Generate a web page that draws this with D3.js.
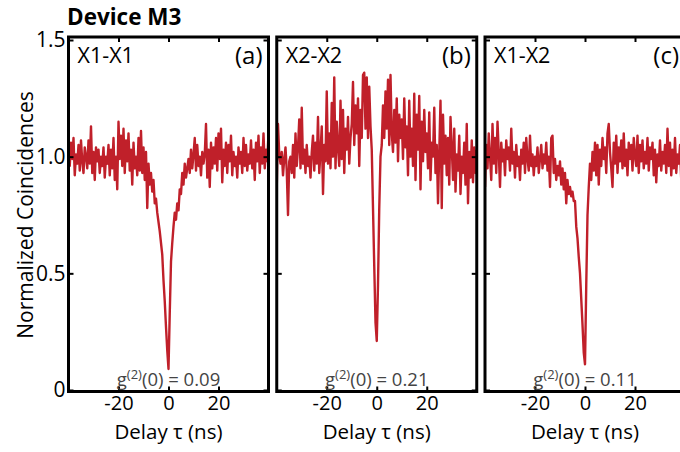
<!DOCTYPE html>
<html>
<head>
<meta charset="utf-8">
<script src="https://cdn.jsdelivr.net/npm/d3@7"></script>
<style>
  html, body { margin: 0; padding: 0; background: #fff; }
  svg { display: block; font-family: "Open Sans", Lato, sans-serif; }
</style>
</head>
<body>
<svg id="chart" width="680" height="452"></svg>
<script>
// ---------------- data ----------------
const delays = [
  -40,-39.5,-39,-38.5,-38,-37.5,-37,-36.5,-36,-35.5,
  -35,-34.5,-34,-33.5,-33,-32.5,-32,-31.5,-31,-30.5,
  -30,-29.5,-29,-28.5,-28,-27.5,-27,-26.5,-26,-25.5,
  -25,-24.5,-24,-23.5,-23,-22.5,-22,-21.5,-21,-20.5,
  -20,-19.5,-19,-18.5,-18,-17.5,-17,-16.5,-16,-15.5,
  -15,-14.5,-14,-13.5,-13,-12.5,-12,-11.5,-11,-10.5,
  -10,-9.5,-9,-8.5,-8,-7.5,-7,-6.5,-6,-5.5,
  -5,-4.5,-4,-3.5,-3,-2.5,-2,-1.5,-1,-0.5,
  0,
  0.5,1,1.5,2,2.5,3,3.5,4,4.5,
  5,5.5,6,6.5,7,7.5,8,8.5,9,9.5,
  10,10.5,11,11.5,12,12.5,13,13.5,14,14.5,
  15,15.5,16,16.5,17,17.5,18,18.5,19,19.5,
  20,20.5,21,21.5,22,22.5,23,23.5,24,24.5,
  25,25.5,26,26.5,27,27.5,28,28.5,29,29.5,
  30,30.5,31,31.5,32,32.5,33,33.5,34,34.5,
  35,35.5,36,36.5,37,37.5,38,38.5,39,39.5,40
];

const x1x1 = [
  1.03,0.96,1.06,0.99,1.08,0.92,1.01,0.97,1.05,0.94,
  1.07,0.98,0.93,1.04,1.00,0.95,1.07,0.97,1.13,0.93,
  1.02,0.90,1.04,0.98,1.03,0.93,1.00,0.96,1.04,0.91,
  1.00,0.97,1.05,0.92,1.03,0.95,1.08,0.90,1.00,0.86,
  1.15,0.99,1.09,0.96,1.12,0.93,1.07,0.98,1.10,0.94,
  1.03,0.88,1.06,0.95,1.00,0.92,1.08,0.94,1.11,0.93,
  1.04,0.90,1.02,0.78,0.97,0.88,0.93,0.85,0.90,0.80,
  0.82,0.76,0.72,0.68,0.63,0.58,0.47,0.38,0.27,0.17,
  0.09,
  0.33,0.55,0.63,0.70,0.76,0.73,0.80,0.77,0.86,
  0.84,0.93,0.88,0.97,0.91,0.95,0.99,0.93,1.03,0.95,
  1.01,1.08,0.94,1.05,0.96,1.00,0.92,1.02,0.97,1.01,
  1.14,0.91,1.03,0.87,1.06,0.95,1.04,0.97,1.08,0.94,
  1.10,0.99,1.12,0.89,1.03,0.96,1.06,0.93,1.05,0.98,
  1.09,0.92,1.02,0.96,1.00,0.91,1.04,0.97,1.02,0.93,
  1.08,0.96,1.05,0.94,1.01,0.97,1.07,0.95,1.03,0.90,
  1.06,0.98,1.09,0.93,1.04,0.97,1.10,0.95,1.03,0.98,1.10
];

const x2x2 = [
  0.87,1.14,1.01,0.97,1.02,0.92,0.99,1.04,0.94,0.75,
  0.98,1.00,0.93,1.05,0.91,1.10,0.96,1.04,1.16,0.95,
  1.21,0.97,1.03,0.93,1.05,0.96,1.00,0.91,1.02,1.09,
  0.94,1.06,0.97,1.17,0.93,1.02,1.13,0.84,1.05,0.98,
  1.28,0.97,1.10,0.95,1.23,1.00,1.34,0.95,1.15,1.04,
  0.96,1.24,0.99,1.20,0.93,1.12,1.03,1.17,0.97,1.08,
  1.14,1.32,1.05,1.22,1.10,1.25,0.96,1.20,1.08,1.35,
  1.36,1.12,1.34,1.08,1.30,1.13,1.03,0.78,0.53,0.29,
  0.21,
  0.45,0.78,1.00,1.05,1.22,1.08,1.28,1.12,1.33,
  1.05,1.35,1.10,1.02,1.20,1.06,1.25,0.98,1.18,1.08,
  1.16,0.99,1.25,1.04,1.13,0.92,1.24,1.00,1.12,0.96,
  1.27,0.90,1.18,1.03,1.26,0.86,1.15,0.98,1.20,1.02,
  1.10,0.95,1.19,0.90,1.06,1.00,1.21,0.93,1.05,0.80,
  1.02,1.24,0.78,1.18,0.97,1.09,0.92,1.08,0.88,1.17,
  1.04,0.90,1.12,0.85,1.01,0.94,1.09,0.84,1.00,0.93,
  1.06,0.88,1.14,0.80,1.02,0.91,1.07,0.89,1.04,0.93,1.03
];

const x1x2 = [
  0.87,1.05,0.95,1.10,1.00,0.90,1.14,0.97,1.08,0.93,
  1.15,1.02,0.87,1.06,0.98,1.03,0.92,1.07,0.99,1.04,
  0.94,1.12,0.97,1.02,0.91,1.05,0.96,1.00,0.90,1.03,
  0.97,1.06,0.93,1.08,0.99,0.94,1.09,0.96,1.01,0.92,
  1.00,0.96,1.04,0.93,0.99,1.05,0.95,1.01,0.97,1.06,
  0.94,1.00,0.87,1.08,1.09,0.93,0.99,0.90,0.96,0.92,
  0.98,0.88,0.95,0.86,0.93,0.80,0.90,0.84,0.87,0.83,
  0.85,0.81,0.81,0.70,0.65,0.57,0.50,0.39,0.28,0.16,
  0.11,
  0.45,0.75,0.87,0.97,0.90,1.02,0.94,1.06,0.92,
  1.05,0.88,1.03,0.96,1.08,0.99,1.04,0.93,1.10,1.14,
  1.02,0.95,0.87,1.06,0.97,1.09,0.93,1.04,0.98,1.07,
  0.95,1.10,0.96,1.03,0.92,1.06,0.99,1.05,0.94,1.08,
  1.00,0.96,1.09,0.93,1.05,0.98,1.07,0.95,1.02,0.97,
  1.08,0.94,1.04,0.99,1.06,0.92,1.03,0.89,1.01,0.96,
  1.07,0.94,1.02,0.97,1.05,0.93,1.12,0.96,1.06,0.92,
  1.03,0.95,1.08,0.93,1.01,0.97,1.05,0.90,1.02,0.98,1.04
];

const panelSeries = [x1x1, x2x2, x1x2];
const panelNames = ["X1-X1", "X2-X2", "X1-X2"];
const panelTags = ["(a)", "(b)", "(c)"];
const g2Values = ["0.09", "0.21", "0.11"];
const xTicks = [-20, 0, 20];
const yTicks = [0, 0.5, 1.0, 1.5];
const title = "Device M3";

// ---------------- drawing ----------------
const svg = d3.select("#chart");
const FONT = "'Open Sans', Lato, sans-serif";
const lineColor = "#c0202a";
const panelW = 200, panelStep = 208.25, firstLeft = 68.5;
const plotTop = 40, plotBottom = 390;

const y = d3.scaleLinear().domain([0, 1.5]).range([plotBottom, plotTop]);

svg.append("text")
  .attr("x", 67).attr("y", 24.5)
  .attr("font-size", 22.5).attr("font-weight", "bold")
  .attr("fill", "#000")
  .text(title);

svg.append("text")
  .attr("transform", `translate(33,215) rotate(-90)`)
  .attr("text-anchor", "middle")
  .attr("font-size", 21)
  .attr("fill", "#000")
  .text("Normalized Coincidences");

const defs = svg.append("defs");

panelSeries.forEach((series, p) => {
  const left = firstLeft + p * panelStep;
  const x = d3.scaleLinear().domain([-40, 40]).range([left, left + panelW]);
  const g = svg.append("g");

  defs.append("clipPath").attr("id", "clip" + p)
    .append("rect")
    .attr("x", left).attr("y", plotTop - 4)
    .attr("width", panelW).attr("height", plotBottom - plotTop + 6);

  const line = d3.line()
    .x((d, i) => x(delays[i]))
    .y(d => y(d));

  g.append("path")
    .datum(series)
    .attr("clip-path", `url(#clip${p})`)
    .attr("fill", "none")
    .attr("stroke", lineColor)
    .attr("stroke-width", 2.4)
    .attr("stroke-linejoin", "round")
    .attr("d", line);

  const axB = g.append("g").attr("transform", `translate(0,${plotBottom + 1.5})`)
    .call(d3.axisBottom(x).tickValues(xTicks).tickSizeInner(-5).tickSizeOuter(0)
      .tickPadding(4).tickFormat(d => String(d)));
  axB.selectAll("text").attr("font-size", 20).attr("fill", "#000")
    .attr("font-family", FONT);

  const axT = g.append("g").attr("transform", `translate(0,${plotTop - 3})`)
    .call(d3.axisTop(x).tickValues(xTicks).tickSizeInner(-5).tickSizeOuter(0).tickFormat(""));

  const axL = g.append("g").attr("transform", `translate(${left},0)`)
    .call(d3.axisLeft(y).tickValues(yTicks).tickSizeInner(-5).tickSizeOuter(0)
      .tickPadding(3).tickFormat(d => p === 0 ? (d === 0 ? "0" : d3.format(".1f")(d)) : ""));
  axL.selectAll("text").attr("font-size", 21).attr("fill", "#000")
    .attr("font-family", FONT);

  const axR = g.append("g").attr("transform", `translate(${left + panelW},0)`)
    .call(d3.axisRight(y).tickValues(yTicks).tickSizeInner(-5).tickSizeOuter(0).tickFormat(""));

  [axB, axT, axL, axR].forEach(a => {
    a.select(".domain").remove();
    a.selectAll(".tick line").attr("stroke", "#000").attr("stroke-width", 2);
  });

  g.append("rect")
    .attr("x", left).attr("y", plotTop - 3)
    .attr("width", panelW).attr("height", plotBottom - plotTop + 4.5)
    .attr("fill", "none").attr("stroke", "#000").attr("stroke-width", 3);

  g.append("text").attr("x", left + 9).attr("y", 63)
    .attr("font-size", 21.5).attr("fill", "#000").text(panelNames[p]);
  g.append("text").attr("x", left + panelW - 6).attr("y", 64)
    .attr("text-anchor", "end").attr("font-size", 24).attr("fill", "#000").text(panelTags[p]);

  const gt = g.append("text").attr("x", x(0)).attr("y", 386)
    .attr("text-anchor", "middle").attr("font-size", 18.5).attr("fill", "#444");
  gt.append("tspan").text("g");
  gt.append("tspan").attr("font-size", 13).attr("dy", -7).text("(2)");
  gt.append("tspan").attr("dy", 7).text("(0) = " + g2Values[p]);

  g.append("text").attr("x", x(0)).attr("y", 438.5)
    .attr("text-anchor", "middle").attr("font-size", 20.5).attr("fill", "#000")
    .text("Delay τ (ns)");
});
</script>
</body>
</html>
